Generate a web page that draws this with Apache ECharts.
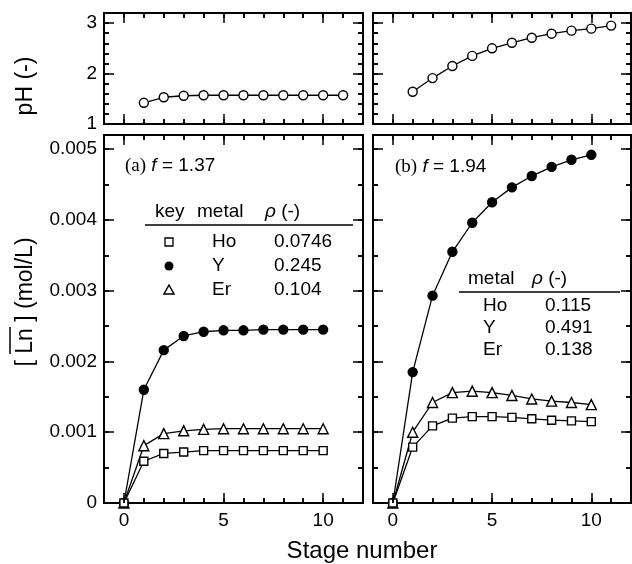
<!DOCTYPE html>
<html>
<head>
<meta charset="utf-8">
<script src="https://cdn.jsdelivr.net/npm/echarts@6/dist/echarts.min.js"></script>
<style>
  html, body { margin: 0; padding: 0; background: #fff; }
  #chart { width: 632px; height: 564px; }
</style>
</head>
<body>
<div id="chart"></div>
<script>
// stage numbers
const stages = [0, 1, 2, 3, 4, 5, 6, 7, 8, 9, 10];
const phStages = [1, 2, 3, 4, 5, 6, 7, 8, 9, 10, 11];

// pH profiles
const phA = [1.42, 1.53, 1.56, 1.57, 1.57, 1.57, 1.57, 1.57, 1.57, 1.57, 1.57];
const phB = [1.64, 1.91, 2.15, 2.35, 2.50, 2.61, 2.71, 2.79, 2.85, 2.89, 2.95];

// organic-phase concentrations (mol/L), panel (a) f = 1.37
const hoA = [0, 0.00059, 0.00070, 0.00072, 0.00074, 0.00074, 0.00074, 0.00074, 0.00074, 0.00074, 0.00074];
const yA = [0, 0.00160, 0.00216, 0.00236, 0.00242, 0.00244, 0.00244, 0.00245, 0.00245, 0.00245, 0.00245];
const erA = [0, 0.00081, 0.00098, 0.00102, 0.00104, 0.00105, 0.00105, 0.00105, 0.00105, 0.00105, 0.00105];

// panel (b) f = 1.94
const hoB = [0, 0.00079, 0.00109, 0.00120, 0.00122, 0.00122, 0.00121, 0.00119, 0.00117, 0.00116, 0.00115];
const yB = [0, 0.00185, 0.00293, 0.00355, 0.00396, 0.00425, 0.00446, 0.00462, 0.00475, 0.00485, 0.00492];
const erB = [0, 0.00100, 0.00142, 0.00156, 0.00158, 0.00156, 0.00152, 0.00147, 0.00144, 0.00142, 0.00139];

// tick labels / tick positions
const xTicks = [0, 5, 10];
const xMinor = [1, 2, 3, 4, 6, 7, 8, 9, 11];
const lnTicks = [0, 0.001, 0.002, 0.003, 0.004, 0.005];
const lnMinor = [0.0005, 0.0015, 0.0025, 0.0035, 0.0045];
const phTicks = [1, 2, 3];
const phMinor = [1.2, 1.4, 1.6, 1.8, 2.2, 2.4, 2.6, 2.8, 3.0];

// legend tables
const metals = ['Ho', 'Y', 'Er'];
const rhoA = ['0.0746', '0.245', '0.104'];
const rhoB = ['0.115', '0.491', '0.138'];

const FONT = '"Liberation Sans", Arial, sans-serif';
const SERIF = '"Liberation Serif", "Times New Roman", serif';

const chart = echarts.init(document.getElementById('chart'));

const grids = [
  { left: 104, top: 13, width: 259, height: 111 },
  { left: 373, top: 13, width: 258, height: 111 },
  { left: 104, top: 135, width: 259, height: 368 },
  { left: 373, top: 135, width: 258, height: 368 }
];

const X_MIN = -1, X_MAX = 12;
const yRange = gi => gi >= 2 ? [0, 0.0052] : [1, 3.2];
const yStep = gi => gi >= 2 ? 0.0005 : 0.2;

// two x axes (bottom with labels, top mirror) and two y axes (left, right) per panel
const xAxes = [];
const yAxes = [];
grids.forEach((g, gi) => {
  const isBottom = gi >= 2;
  ['bottom', 'top'].forEach(pos => {
    xAxes.push({
      type: 'value', gridIndex: gi, position: pos, min: X_MIN, max: X_MAX, interval: 1, z: 5,
      axisLine: { show: false, onZero: false },
      splitLine: { show: false },
      axisTick: { show: true, inside: true, length: 5, lineStyle: { color: '#000', width: 1.5 } },
      axisLabel: { show: isBottom && pos === 'bottom', customValues: xTicks,
        fontSize: 19, fontFamily: FONT, color: '#000', margin: 8 }
    });
  });
  ['left', 'right'].forEach(pos => {
    yAxes.push({
      type: 'value', gridIndex: gi, position: pos, z: 5,
      min: yRange(gi)[0], max: yRange(gi)[1], interval: yStep(gi),
      axisLine: { show: false, onZero: false },
      splitLine: { show: false },
      axisTick: { show: true, inside: true, length: 5, lineStyle: { color: '#000', width: 1.5 } },
      axisLabel: { show: gi % 2 === 0 && pos === 'left', customValues: isBottom ? lnTicks : phTicks,
        fontSize: 19, fontFamily: FONT, color: '#000', margin: 7,
        formatter: v => isBottom ? (v === 0 ? '0' : v.toFixed(3)) : String(Math.round(v)) }
    });
  });
});

// inward tick marks on the four sides, as mark lines in data space
function tickMarks(gi) {
  const g = grids[gi];
  const yr = yRange(gi);
  const dy = (yr[1] - yr[0]) / g.height;   // data units per pixel, vertical
  const dx = (X_MAX - X_MIN) / g.width;    // data units per pixel, horizontal
  const data = [];
  const seg = (a, b) => data.push([{ coord: a }, { coord: b }]);
  [[xTicks, 10], [xMinor, 5]].forEach(([vals, len]) => vals.forEach(v => {
    seg([v, yr[0]], [v, yr[0] + len * dy]);
    seg([v, yr[1]], [v, yr[1] - len * dy]);
  }));
  const yt = gi >= 2 ? [[lnTicks, 10], [lnMinor, 5]] : [[phTicks, 10], [phMinor, 5]];
  yt.forEach(([vals, len]) => vals.forEach(v => {
    seg([X_MIN, v], [X_MIN + len * dx, v]);
    seg([X_MAX, v], [X_MAX - len * dx, v]);
  }));
  return {
    silent: true, symbol: ['none', 'none'], animation: false,
    label: { show: false },
    emphasis: { disabled: true },
    lineStyle: { color: '#000', width: 1.5, type: 'solid', opacity: 1 },
    data: data
  };
}

function series(gi, xs, ys, symbol, fill, size, withTicks) {
  const s = {
    type: 'line', xAxisIndex: gi * 2, yAxisIndex: gi * 2,
    data: xs.map((x, i) => [x, ys[i]]),
    symbol: symbol, symbolSize: size, showSymbol: true,
    itemStyle: { color: fill, borderColor: '#000', borderWidth: 1.4 },
    lineStyle: { color: '#000', width: 1.3 },
    z: 3
  };
  if (withTicks) s.markLine = tickMarks(gi);
  return s;
}

// legend table pieces
function txt(x, y, text) {
  return {
    type: 'text', x: x, y: y,
    style: { text: text, font: '19px ' + FONT, fill: '#000', verticalAlign: 'middle' }
  };
}
function rich(x, y, text) {
  return {
    type: 'text', x: x, y: y,
    style: {
      text: text, fontSize: 19, fontFamily: FONT, fill: '#000', verticalAlign: 'middle',
      rich: {
        s: { fontSize: 19, fontFamily: SERIF },
        i: { fontSize: 19, fontFamily: FONT, fontStyle: 'italic' }
      }
    }
  };
}
function line(x1, y1, x2, y2) {
  return { type: 'line', shape: { x1: x1, y1: y1, x2: x2, y2: y2 }, style: { stroke: '#000', lineWidth: 1.5 } };
}

const graphic = [
  // axis names
  { type: 'text', x: 26, y: 86, rotation: Math.PI / 2,
    style: { text: 'pH (-)', font: '23px ' + FONT, fill: '#000', align: 'center', verticalAlign: 'middle' } },
  { type: 'text', x: 26, y: 302, rotation: Math.PI / 2,
    style: { text: '[ Ln ] (mol/L)', font: '23px ' + FONT, fill: '#000', align: 'center', verticalAlign: 'middle' } },
  line(10, 354, 10, 327),
  { type: 'text', x: 362, y: 551,
    style: { text: 'Stage number', font: '24px ' + FONT, fill: '#000', align: 'center', verticalAlign: 'middle' } },

  // panel (a)
  rich(125, 166, '{s|(a)} {i|f} = 1.37'),
  txt(155, 212, 'key'),
  txt(197, 212, 'metal'),
  rich(265, 212, '{i|ρ} (-)'),
  line(145, 225, 353, 225),
  { type: 'rect', shape: { x: 165, y: 238, width: 8, height: 8 }, style: { fill: '#fff', stroke: '#000', lineWidth: 1.3 } },
  { type: 'circle', shape: { cx: 169, cy: 266, r: 4.5 }, style: { fill: '#000' } },
  { type: 'polygon', shape: { points: [[169, 285], [174, 294], [164, 294]] }, style: { fill: '#fff', stroke: '#000', lineWidth: 1.5 } },

  // panel (b)
  rich(395, 167, '{s|(b)} {i|f} = 1.94'),
  txt(468, 279, 'metal'),
  rich(532, 279, '{i|ρ} (-)'),
  line(459, 292, 620, 292)
];

const rowsA = [242, 266, 290];
const rowsB = [306, 328, 350];
metals.forEach((m, i) => {
  graphic.push(txt(212, rowsA[i], m));
  graphic.push(txt(274, rowsA[i], rhoA[i]));
  graphic.push(txt(483, rowsB[i], m));
  graphic.push(txt(545, rowsB[i], rhoB[i]));
});

chart.setOption({
  animation: false,
  textStyle: { fontFamily: FONT },
  grid: grids.map(g => Object.assign({ show: true, borderColor: '#000', borderWidth: 2 }, g)),
  xAxis: xAxes,
  yAxis: yAxes,
  series: [
    series(0, phStages, phA, 'circle', '#fff', 9, true),
    series(1, phStages, phB, 'circle', '#fff', 9, true),
    series(2, stages, yA, 'circle', '#000', 9, true),
    series(2, stages, erA, 'triangle', '#fff', 10),
    series(2, stages, hoA, 'rect', '#fff', 8),
    series(3, stages, yB, 'circle', '#000', 9, true),
    series(3, stages, erB, 'triangle', '#fff', 10),
    series(3, stages, hoB, 'rect', '#fff', 8)
  ],
  graphic: graphic
});
</script>
</body>
</html>
